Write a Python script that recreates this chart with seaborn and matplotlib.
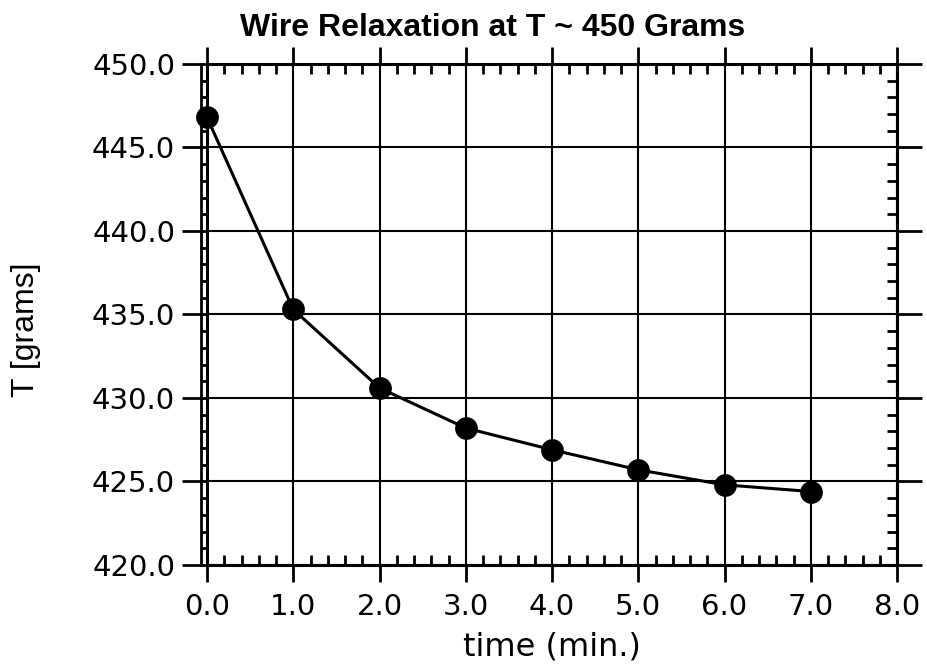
import pandas as pd
import seaborn as sns
import matplotlib.pyplot as plt
from matplotlib.lines import Line2D
from matplotlib.transforms import ScaledTranslation
from matplotlib.ticker import MultipleLocator

time_min = [0, 1, 2, 3, 4, 5, 6, 7]
tension = [446.8, 435.3, 430.6, 428.2, 426.9, 425.7, 424.8, 424.4]

sns.set_style("ticks")
plt.rcParams['font.family'] = ['DejaVu Sans']
plt.rcParams['text.color'] = 'black'
plt.rcParams['axes.labelcolor'] = 'black'

fig = plt.figure(figsize=(9.28, 6.68), dpi=100)
ax = fig.add_axes([0.2231, 0.1542, 0.7435, 0.75])

df = pd.DataFrame({"time": time_min, "T": tension})
sns.lineplot(data=df, x="time", y="T", ax=ax, color="black", linewidth=2.2)
sns.scatterplot(data=df, x="time", y="T", ax=ax, color="black", s=230,
                edgecolor="black", zorder=5, clip_on=False)

ax.set_xlim(0, 8)
ax.set_ylim(420, 450)
ax.xaxis.set_major_locator(MultipleLocator(1))
ax.xaxis.set_minor_locator(MultipleLocator(0.2))
ax.yaxis.set_major_locator(MultipleLocator(5))
ax.yaxis.set_minor_locator(MultipleLocator(1))
ax.set_xticklabels([f"{v:.1f}" for v in ax.get_xticks()])
ax.set_yticklabels([f"{v:.1f}" for v in ax.get_yticks()])

ax.grid(True, which="major", color="black", linewidth=1.5)
for s in ax.spines.values():
    s.set_linewidth(2.2)
    s.set_color("black")

# major ticks stick out, minor ticks point in (except the left "ladder")
ax.tick_params(axis="x", which="major", direction="out", length=12, width=2,
               labelsize=21, top=True, pad=8, colors="black")
ax.tick_params(axis="y", which="major", direction="out", length=18, width=2,
               labelsize=21, right=True, pad=5, colors="black")
ax.tick_params(which="minor", direction="in", length=7.5, width=2,
               top=True, right=True, colors="black")
for t in ax.yaxis.get_minor_ticks():
    t.tick1line.set_marker(0)  # left minors point outward
    t.tick1line.set_markersize(4.5)
    t.tick1line.set_markeredgewidth(2)

# second rail of the ladder on the left
shift = ScaledTranslation(-6 / 100, 0, fig.dpi_scale_trans)
ax.add_line(Line2D([0, 0], [0, 1], transform=ax.transAxes + shift,
                   color="black", linewidth=2, clip_on=False))

ax.set_xlabel("time (min.)", fontsize=23, labelpad=8)
ax.set_ylabel("T [grams]", fontsize=23, family="Liberation Sans")
ax.yaxis.set_label_coords(-0.24, 0.47)
ax.text(0.414, 1 + 28 / 501, "Wire Relaxation at T ~ 450 Grams",
        transform=ax.transAxes, ha="center", va="baseline", fontsize=23,
        fontweight="bold", family="Liberation Sans")

plt.savefig("out.png", dpi=100)
